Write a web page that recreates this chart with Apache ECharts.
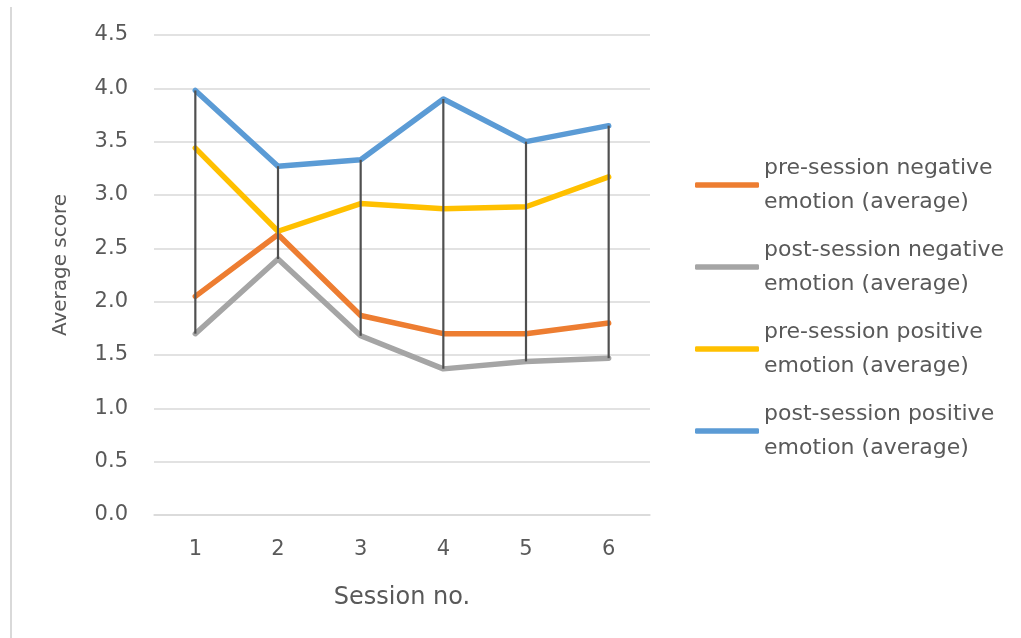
<!DOCTYPE html>
<html>
<head>
<meta charset="utf-8">
<script src="https://cdn.jsdelivr.net/npm/echarts@6/dist/echarts.min.js"></script>
<style>
  html, body { margin: 0; padding: 0; background: #fff; }
  #chart { width: 1021px; height: 638px; }
</style>
</head>
<body>
<div id="chart"></div>
<script>
// Session numbers on the x axis
const sessions = ['1', '2', '3', '4', '5', '6'];

// Average scores per session
const preNegative  = [2.05, 2.63, 1.87, 1.70, 1.70, 1.80];
const postNegative = [1.70, 2.40, 1.68, 1.37, 1.44, 1.47];
const prePositive  = [3.44, 2.66, 2.92, 2.87, 2.89, 3.17];
const postPositive = [3.98, 3.27, 3.33, 3.90, 3.50, 3.65];

const seriesNames = [
  'pre-session negative emotion (average)',
  'post-session negative emotion (average)',
  'pre-session positive emotion (average)',
  'post-session positive emotion (average)'
];
const seriesColors = ['#ED7D31', '#A5A5A5', '#FFC000', '#5B9BD5'];
const seriesValues = [preNegative, postNegative, prePositive, postPositive];

// High-low line for each session: lowest to highest of the four scores
const highLow = sessions.map((s, i) => {
  const vals = seriesValues.map(arr => arr[i]);
  return [i, Math.min(...vals), Math.max(...vals)];
});

const FONT = 'DejaVu Sans';
const TEXT = '#595959';

const chart = echarts.init(document.getElementById('chart'), null, { renderer: 'canvas' });

const lineSeries = seriesNames.map((name, k) => ({
  name: name,
  type: 'line',
  data: seriesValues[k],
  symbol: 'none',
  z: 2,
  lineStyle: { color: seriesColors[k], width: 5.5, cap: 'round', join: 'round' },
  itemStyle: { color: seriesColors[k] },
  emphasis: { disabled: true }
}));

chart.setOption({
  animation: false,
  backgroundColor: '#ffffff',
  textStyle: { fontFamily: FONT },
  graphic: [{
    type: 'line',
    shape: { x1: 11, y1: 7, x2: 11, y2: 638 },
    style: { stroke: '#d9d9d9', lineWidth: 2 }
  }],
  grid: { left: 154, right: 371, top: 35, bottom: 123, containLabel: false },
  legend: {
    data: seriesNames,
    orient: 'vertical',
    left: 695,
    top: 134,
    padding: 0,
    itemGap: -20,
    itemWidth: 64,
    itemHeight: 5.5,
    icon: 'roundRect',
    formatter: name => name.replace(' emotion', '\nemotion'),
    textStyle: {
      fontFamily: FONT,
      fontSize: 22,
      color: TEXT,
      lineHeight: 34,
      padding: [34, 0, 0, 0]
    }
  },
  xAxis: {
    type: 'category',
    data: sessions,
    boundaryGap: true,
    name: 'Session no.',
    nameLocation: 'middle',
    nameGap: 71,
    nameTextStyle: { fontFamily: FONT, fontSize: 24, color: TEXT },
    axisLine: { lineStyle: { color: '#d9d9d9', width: 1.5 } },
    axisTick: { show: false },
    axisLabel: { margin: 24, fontFamily: FONT, fontSize: 21, color: TEXT }
  },
  yAxis: {
    type: 'value',
    min: 0,
    max: 4.5,
    interval: 0.5,
    name: 'Average score',
    nameLocation: 'middle',
    nameGap: 83,
    nameTextStyle: { fontFamily: FONT, fontSize: 20, color: TEXT, padding: [0, 0, 0, 20] },
    axisLine: { show: false },
    axisTick: { show: false },
    axisLabel: {
      margin: 26,
      fontFamily: FONT,
      fontSize: 21,
      color: TEXT,
      formatter: v => v.toFixed(1)
    },
    splitLine: { lineStyle: { color: '#d9d9d9', width: 1.5 } }
  },
  series: lineSeries.concat([{
    name: 'high-low',
    type: 'custom',
    data: highLow,
    z: 3,
    silent: true,
    encode: { x: 0, y: [1, 2] },
    renderItem: function (params, api) {
      const low = api.coord([api.value(0), api.value(1)]);
      const high = api.coord([api.value(0), api.value(2)]);
      return {
        type: 'line',
        shape: { x1: low[0], y1: low[1], x2: high[0], y2: high[1] },
        style: { stroke: '#505050', lineWidth: 2.2 }
      };
    }
  }])
});
</script>
</body>
</html>
